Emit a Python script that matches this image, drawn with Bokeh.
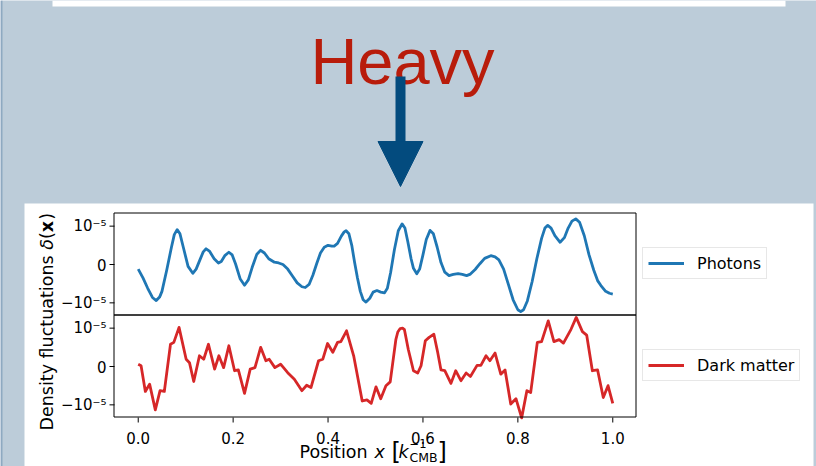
import numpy as np
from bokeh.plotting import figure
from bokeh.models import Range1d, Legend, LegendItem, Arrow, NormalHead
from bokeh.embed import file_html
from bokeh.resources import INLINE
from bokeh.core.properties import value

# ---------------- data (values in units of 1e-5) ----------------
UNIT = 1e-5
photon_x = [0.000, 0.010, 0.020, 0.030, 0.038, 0.045, 0.050, 0.060, 0.070, 0.076,
            0.082, 0.088, 0.095, 0.105, 0.115, 0.122, 0.130, 0.137, 0.143, 0.150,
            0.160, 0.169, 0.175, 0.183, 0.191, 0.198, 0.205, 0.215, 0.224, 0.232,
            0.240, 0.250, 0.258, 0.266, 0.275, 0.287, 0.296, 0.305, 0.315, 0.325,
            0.335, 0.345, 0.352, 0.360, 0.368, 0.376, 0.384, 0.392, 0.400, 0.408,
            0.413, 0.420, 0.428, 0.434, 0.438, 0.444, 0.450, 0.456, 0.462, 0.468,
            0.474, 0.480, 0.488, 0.495, 0.503, 0.511, 0.519, 0.525, 0.532, 0.540,
            0.548, 0.556, 0.562, 0.568, 0.575, 0.580, 0.587, 0.593, 0.600, 0.607,
            0.615, 0.622, 0.630, 0.638, 0.646, 0.655, 0.664, 0.674, 0.683, 0.692,
            0.700, 0.710, 0.720, 0.730, 0.743, 0.752, 0.760, 0.770, 0.780, 0.790,
            0.800, 0.806, 0.812, 0.820, 0.830, 0.840, 0.850, 0.857, 0.863, 0.870,
            0.878, 0.889, 0.898, 0.906, 0.914, 0.922, 0.930, 0.940, 0.950, 0.960,
            0.968, 0.975, 0.985, 0.993, 1.000]
photon_y = [-0.12, -0.35, -0.62, -0.86, -0.94, -0.85, -0.70, -0.15, 0.45, 0.78,
            0.91, 0.80, 0.45, -0.05, -0.23, -0.12, 0.12, 0.33, 0.41, 0.35,
            0.15, 0.04, 0.08, 0.24, 0.32, 0.25, 0.02, -0.38, -0.54, -0.40,
            -0.08, 0.27, 0.37, 0.30, 0.15, 0.06, 0.04, 0.00, -0.12, -0.30,
            -0.48, -0.58, -0.60, -0.52, -0.28, 0.02, 0.30, 0.45, 0.50, 0.48,
            0.48, 0.55, 0.74, 0.85, 0.88, 0.80, 0.50, 0.05, -0.35, -0.70,
            -0.92, -0.98, -0.88, -0.72, -0.68, -0.72, -0.74, -0.62, -0.20, 0.40,
            0.88, 1.06, 0.95, 0.60, 0.15, -0.10, -0.24, -0.12, 0.25, 0.65,
            0.89, 0.80, 0.45, 0.05, -0.20, -0.29, -0.26, -0.24, -0.26, -0.29,
            -0.25, -0.13, 0.02, 0.16, 0.23, 0.20, 0.12, -0.12, -0.52, -0.92,
            -1.18, -1.23, -1.18, -0.95, -0.45, 0.15, 0.68, 0.95, 1.02, 0.95,
            0.75, 0.58, 0.70, 0.95, 1.13, 1.19, 1.10, 0.75, 0.25, -0.15,
            -0.42, -0.55, -0.70, -0.75, -0.77]

dm_x = [0.000, 0.006, 0.015, 0.024, 0.036, 0.046, 0.055, 0.068, 0.075, 0.086,
        0.101, 0.108, 0.117, 0.129, 0.138, 0.148, 0.161, 0.170, 0.180, 0.191,
        0.203, 0.211, 0.224, 0.236, 0.246, 0.258, 0.269, 0.276, 0.288, 0.300,
        0.315, 0.329, 0.345, 0.355, 0.364, 0.380, 0.389, 0.399, 0.410, 0.420,
        0.427, 0.439, 0.454, 0.472, 0.482, 0.491, 0.501, 0.511, 0.522, 0.531,
        0.543, 0.547, 0.552, 0.557, 0.561, 0.569, 0.580, 0.589, 0.596, 0.605,
        0.613, 0.623, 0.631, 0.638, 0.646, 0.659, 0.669, 0.680, 0.691, 0.700,
        0.714, 0.722, 0.733, 0.741, 0.752, 0.764, 0.773, 0.785, 0.796, 0.808,
        0.819, 0.827, 0.841, 0.850, 0.864, 0.876, 0.887, 0.896, 0.912, 0.923,
        0.936, 0.945, 0.957, 0.968, 0.980, 0.990, 1.000]
dm_y = [0.06, 0.02, -0.65, -0.46, -1.13, -0.63, -0.65, 0.58, 0.63, 1.02,
        0.19, 0.10, -0.39, 0.28, 0.19, 0.58, -0.07, 0.28, -0.03, 0.54,
        -0.11, -0.09, -0.70, -0.07, -0.03, 0.50, 0.15, 0.19, -0.03, 0.06,
        -0.16, -0.33, -0.63, -0.49, -0.55, 0.15, 0.19, 0.60, 0.37, 0.63,
        0.65, 0.93, 0.28, -0.90, -0.87, -0.96, -0.53, -0.84, -0.50, -0.40,
        0.71, 0.90, 0.99, 1.00, 0.96, 0.45, -0.11, -0.17, 0.02, 0.67,
        0.76, 0.84, 0.37, -0.09, -0.11, -0.44, -0.11, -0.37, -0.17, -0.26,
        0.03, 0.03, 0.28, 0.15, 0.35, -0.20, -0.09, -0.98, -0.84, -1.34,
        -0.63, -0.68, 0.63, 0.65, 1.19, 0.65, 0.70, 0.61, 0.97, 1.28,
        0.91, 0.82, -0.11, -0.09, -0.81, -0.50, -0.96]

series_names = ["Photons", "Dark matter"]
x_ticks = [0.0, 0.2, 0.4, 0.6, 0.8, 1.0]
y_ticks = [-1.0, 0.0, 1.0]
y_tick_labels = ["−10⁻⁵", "0", "10⁻⁵"]
headline = "Heavy"

# ---------------- styles / layout constants (canvas pixels, y downwards) ----------------
W, H = 816, 466
BG = "#BCCCD9"
EDGE = "#8EA9C1"
RED_TXT = "#B81C0B"
ARROW_BLUE = "#034B7E"
C_PH = "#1f77b4"
C_DM = "#d62728"
FONT = "DejaVu Sans"
FR_L, FR_R = 114, 636           # subplot frame, left/right
TOP_T, MID, BOT_B = 213, 315, 417
HALF = 51                        # half-height of each subplot in px
R = 1.33 * UNIT                  # half-range of each subplot in data units
XLO, XHI = -0.05, 1.05

p = figure(width=W, height=H, x_range=Range1d(0, W), y_range=Range1d(H, 0),
           output_backend="svg", toolbar_location=None, x_axis_type=None, y_axis_type=None,
           min_border=0, background_fill_color=BG, border_fill_color=BG, outline_line_color=None)

# data scales mapped onto the canvas
kx = (XHI - XLO) / (FR_R - FR_L)
ky = R / HALF
ph_c = TOP_T + HALF
dm_c = MID + HALF
p.extra_x_ranges = {"dx": Range1d(XLO - FR_L * kx, XLO + (W - FR_L) * kx)}
p.extra_y_ranges = {"ph": Range1d((ph_c - H) * ky, ph_c * ky),
                    "dm": Range1d((dm_c - H) * ky, dm_c * ky)}

def txt(x, y, s, size, style="normal", angle=0.0, align="left", baseline="alphabetic",
        color="black", font=FONT, **kw):
    return p.text(x=x, y=y, text=s, text_font=value(font), text_font_size=value(size),
                  text_font_style=value(style), angle=angle, text_align=align,
                  text_baseline=baseline, text_color=color, **kw)

# ---------------- slide decorations ----------------
p.quad(left=[0], right=[2], top=[0], bottom=[H], fill_color=EDGE, line_color=None)
p.quad(left=[52], right=[785], top=[0], bottom=[6], fill_color="white", line_color=None)
txt([402], [61], [headline], "65px", color=RED_TXT, font="Liberation Sans", align="center")
p.add_layout(Arrow(end=NormalHead(size=45, fill_color=ARROW_BLUE, line_color=ARROW_BLUE,
                                  line_width=1),
                   x_start=400, y_start=76, x_end=400, y_end=186,
                   line_color=ARROW_BLUE, line_width=10))
p.quad(left=[24], right=[813], top=[203], bottom=[H], fill_color="white", line_color=None)

# ---------------- data lines ----------------
r_ph = p.line(photon_x, np.array(photon_y) * UNIT, x_range_name="dx", y_range_name="ph",
              line_color=C_PH, line_width=2.8, line_join="round")
r_dm = p.line(dm_x, np.array(dm_y) * UNIT, x_range_name="dx", y_range_name="dm",
              line_color=C_DM, line_width=2.8, line_join="round")

# subplot frames
p.quad(left=[FR_L - 0.5] * 2, right=[FR_R - 0.5] * 2, top=[TOP_T - 0.5, MID - 0.5],
       bottom=[MID - 0.5, BOT_B - 0.5], fill_color=None, line_color="black", line_width=1)

# ---------------- axes: ticks and tick labels ----------------
nx = len(x_ticks)
p.segment(x0=x_ticks, x1=x_ticks, y0=[BOT_B] * nx, y1=[BOT_B + 5] * nx,
          x_range_name="dx", line_color="black", line_width=1)
txt(x_ticks, [BOT_B + 20] * nx, [f"{v:.1f}" for v in x_ticks], "15px",
    align="center", x_range_name="dx")
yt = [v * UNIT for v in y_ticks]
ny = len(yt)
for rn in ("ph", "dm"):
    p.segment(x0=[FR_L - 5] * ny, x1=[FR_L] * ny, y0=yt, y1=yt, y_range_name=rn,
              line_color="black", line_width=1)
    txt([FR_L - 8] * ny, yt, y_tick_labels, "15px", align="right", baseline="middle",
        y_range_name=rn)

# ---------------- legends ----------------
for name, rend, loc in ((series_names[0], r_ph, (642, H - 279)),
                        (series_names[1], r_dm, (642, H - 381))):
    leg = Legend(items=[LegendItem(label=name, renderers=[rend])], location=loc,
                 margin=0, padding=5, glyph_width=36, glyph_height=20, label_standoff=13,
                 label_text_font=FONT, label_text_font_size="16px", label_text_color="black",
                 border_line_color="#d0d0d0", border_line_width=1,
                 background_fill_color="white", background_fill_alpha=1.0)
    p.add_layout(leg)

# ---------------- axis labels (composite text) ----------------
# x: Position x [k^-1_CMB]
txt([299], [451], ["Position "], "17.5px")
txt([374], [451], ["x"], "17.5px", "italic")
txt([391], [451], ["["], "24px")
txt([398], [451], ["k"], "17.5px", "italic")
txt([409], [443], ["−1"], "11.5px")
txt([409], [457], ["CMB"], "12.5px")
txt([437], [451], ["]"], "24px")
# y: Density fluctuations δ(x), rotated
ang = np.pi / 2
txt([46], [430], ["Density fluctuations "], "17.5px", angle=ang)
txt([46], [249.3], ["δ"], "17.5px", "italic", angle=ang)
txt([46], [238.6], ["("], "17.5px", angle=ang)
txt([46], [231.8], ["x"], "17.5px", "bold", angle=ang)
txt([46], [219.3], [")"], "17.5px", angle=ang)

open("out.html", "w").write(file_html(p, INLINE))
